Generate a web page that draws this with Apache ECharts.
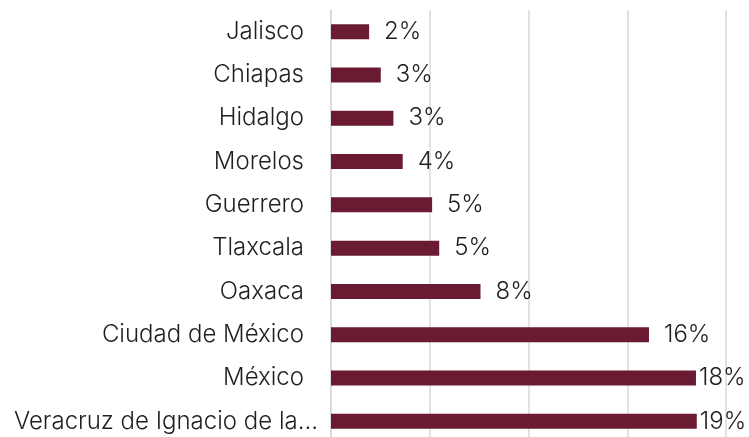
<!DOCTYPE html>
<html>
<head>
<meta charset="utf-8">
<script src="https://cdn.jsdelivr.net/npm/echarts@6/dist/echarts.min.js"></script>
<style>html,body{margin:0;padding:0;background:#fff;}#c{width:749px;height:437px;}</style>
</head>
<body>
<div id="c"></div>
<script>
const categories = ['Jalisco','Chiapas','Hidalgo','Morelos','Guerrero','Tlaxcala','Oaxaca','Ciudad de México','México','Veracruz de Ignacio de la...'];
const values = [1.93, 2.52, 3.16, 3.63, 5.12, 5.48, 7.57, 16.1, 18.48, 18.52];
const axisMin = 0, axisMax = 20, axisStep = 5;

const chart = echarts.init(document.getElementById('c'), null, {renderer:'canvas'});
const FONT = 'Inter';
const catData = categories.map(c => c.length > 20 ? {value:c, textStyle:{padding:[0,-14,0,0]}} : c);
chart.setOption({
  animation:false,
  backgroundColor:'#fff',
  grid:{left:331, top:10, width:395, height:433, containLabel:false, outerBoundsMode:'none'},
  xAxis:{type:'value', min:axisMin, max:axisMax, interval:axisStep,
    axisLabel:{show:false}, axisLine:{show:false}, axisTick:{show:false},
    splitLine:{lineStyle:{color:'#d9d9d9', width:1.5}}},
  yAxis:{type:'category', inverse:true, data:catData,
    axisLine:{show:true, lineStyle:{color:'#d9d9d9', width:1.5}}, axisTick:{show:false},
    axisLabel:{margin:27, color:'#1f1f1f', fontFamily:FONT, fontSize:24, fontWeight:300}},
  series:[{type:'bar', barWidth:15,
    itemStyle:{color:'#6a1b31'},
    data: values.map(v => ({value:v, label:{distance: v > 17 ? 3 : 15}})),
    label:{show:true, position:'right', color:'#1f1f1f', fontFamily:FONT, fontSize:24, fontWeight:300,
      formatter: p => Math.round(p.value) + '%'}
  }]
});
</script>
</body>
</html>
